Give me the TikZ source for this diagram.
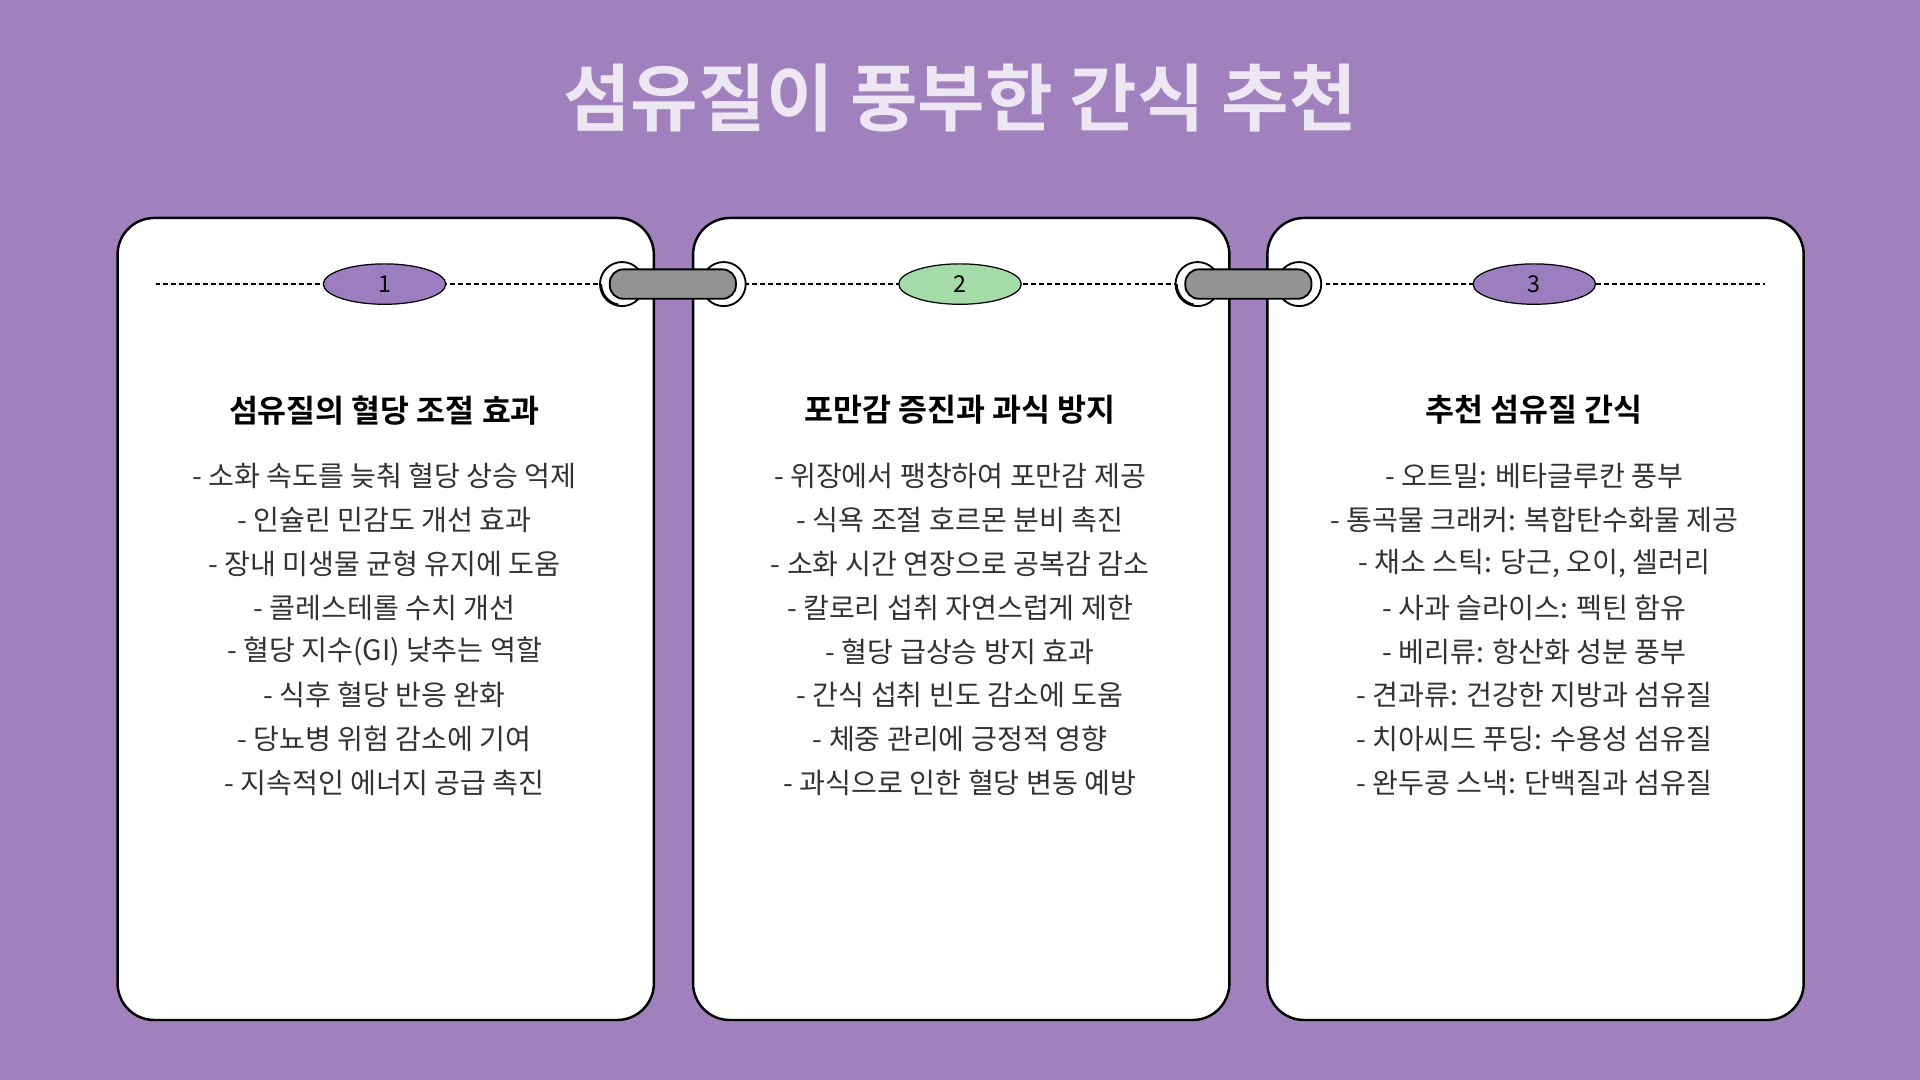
\documentclass[tikz,border=0pt]{standalone}
\usepackage{fontspec}
\setmainfont{Noto Sans CJK KR}
\newfontfamily\krbold{Noto Sans CJK KR Bold}
\usetikzlibrary{shapes.geometric}
\definecolor{bg}{HTML}{A081BD}
\definecolor{pur}{HTML}{9C7EC0}
\definecolor{grn}{HTML}{A5DBA8}
\definecolor{ttl}{HTML}{EDE6F3}
\definecolor{txt}{HTML}{333333}
\begin{document}
\begin{tikzpicture}[x=1pt,y=-1pt,
 card/.style={draw=black,line width=2pt,fill=white,rounded corners=30pt},
 badge/.style={ellipse,draw=black,line width=1pt,minimum width=100pt,minimum height=33pt,inner sep=0pt,font=\fontsize{19}{21}\selectfont},
 head/.style={font=\krbold\fontsize{25.7}{28}\selectfont,text=black},
 item/.style={font=\fontsize{23}{25}\selectfont,text=txt},
 ring/.style={circle,draw=black,line width=1.5pt,fill=white,minimum size=36pt,inner sep=0pt},
 bar/.style={draw=black,line width=1.5pt,fill=gray!85,rounded corners=11pt}]
\fill[bg] (0,0) rectangle (1568,882);
\node[font=\krbold\fontsize{60}{66}\selectfont,text=ttl] (title) at (784,80) {섬유질이 풍부한 간식 추천};
\foreach \i/\x in {1/96,2/566,3/1035}{
 \draw[card] (\x,178) rectangle ++(438,655);
}
\draw[dash pattern=on 4pt off 2.5pt,line width=1pt] (127,232) -- (1441,232);
\foreach \a in {508,978}{
 \node[ring] (l\a) at (\a,232) {};
 \node[ring] (r\a) at (\a+83,232) {};
 \draw[bar] (\a-10,220) rectangle (\a+93,244);
 \draw[line width=1.5pt] (\a-17,232) arc (180:100:17);
}
\node[badge,fill=pur] (b1) at (314,232) {1};
\node[badge,fill=grn] (b2) at (784,232) {2};
\node[badge,fill=pur] (b3) at (1253,232) {3};
\node[head] (h1) at (314,335) {섬유질의 혈당 조절 효과};
\node[head] (h2) at (784,335) {포만감 증진과 과식 방지};
\node[head] (h3) at (1253,335) {추천 섬유질 간식};
\foreach \t [count=\k] in {- 소화 속도를 늦춰 혈당 상승 억제,- 인슐린 민감도 개선 효과,- 장내 미생물 균형 유지에 도움,- 콜레스테롤 수치 개선,- 혈당 지수(GI) 낮추는 역할,- 식후 혈당 반응 완화,- 당뇨병 위험 감소에 기여,- 지속적인 에너지 공급 촉진}
 \node[item] (a\k) at (314,353+35.8*\k) {\t};
\foreach \t [count=\k] in {- 위장에서 팽창하여 포만감 제공,- 식욕 조절 호르몬 분비 촉진,- 소화 시간 연장으로 공복감 감소,- 칼로리 섭취 자연스럽게 제한,- 혈당 급상승 방지 효과,- 간식 섭취 빈도 감소에 도움,- 체중 관리에 긍정적 영향,- 과식으로 인한 혈당 변동 예방}
 \node[item] (m\k) at (784,353+35.8*\k) {\t};
\foreach \t [count=\k] in {- 오트밀: 베타글루칸 풍부,- 통곡물 크래커: 복합탄수화물 제공,- 채소 스틱: 당근{,} 오이{,} 셀러리,- 사과 슬라이스: 펙틴 함유,- 베리류: 항산화 성분 풍부,- 견과류: 건강한 지방과 섬유질,- 치아씨드 푸딩: 수용성 섬유질,- 완두콩 스낵: 단백질과 섬유질}
 \node[item] (c\k) at (1253,353+35.8*\k) {\t};
\end{tikzpicture}
\end{document}
